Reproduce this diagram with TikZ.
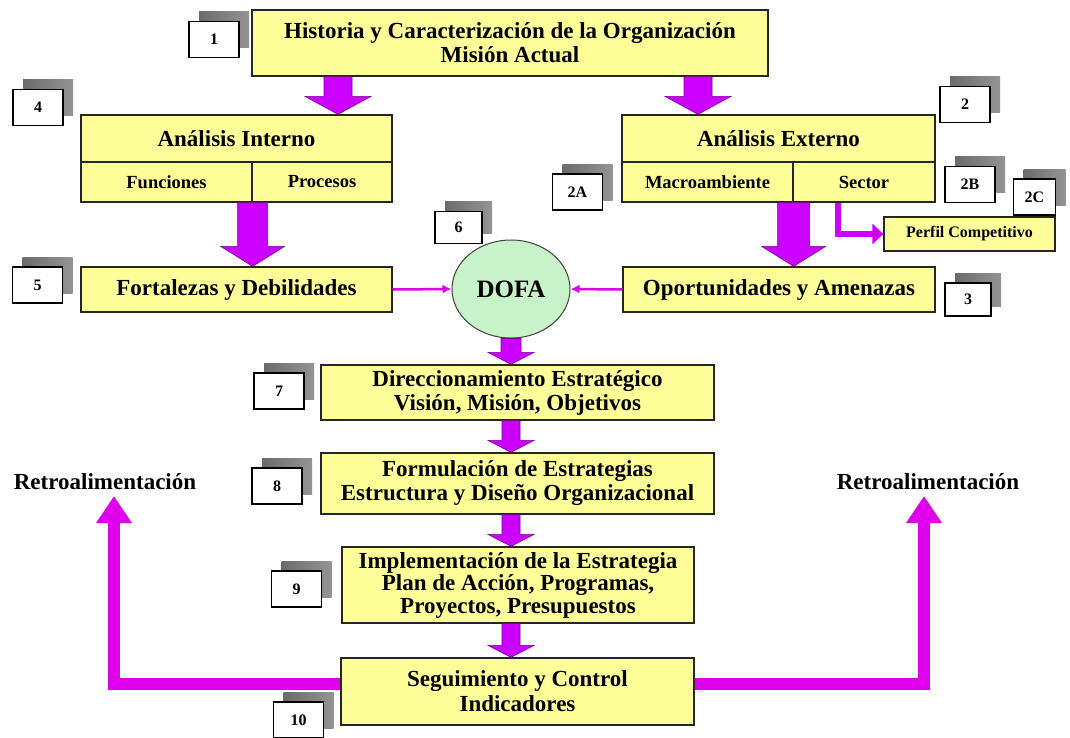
\documentclass[tikz,border=0pt]{standalone}
\usepackage{fontspec}
\setmainfont{Liberation Serif}
\usetikzlibrary{arrows.meta,shapes.geometric,shadows,calc}
\definecolor{boxyellow}{RGB}{255,255,153}
\definecolor{arrowmag}{RGB}{204,0,255}
\definecolor{arrowedge}{RGB}{120,0,150}
\definecolor{linemag}{RGB}{225,0,235}
\definecolor{dofagreen}{RGB}{200,242,200}
\begin{document}
\begin{tikzpicture}[x=1pt,y=-1pt,
  box/.style={draw=black!85, line width=1.3pt, fill=boxyellow, inner sep=0pt,
    align=center, font=\bfseries\fontsize{23}{24}\selectfont},
  subbox/.style={box, font=\bfseries\fontsize{18.5}{20}\selectfont},
  numbox/.style={draw=black, line width=1.3pt, fill=white, inner sep=0pt,
    minimum width=50pt, minimum height=36pt, font=\bfseries\fontsize{16}{16}\selectfont,
    general shadow={shading=axis, left color=black!58, right color=black!42,
      shadow xshift=10pt, shadow yshift=10pt}},
  barrow/.style args={#1/#2/#3}{fill=arrowmag, draw=arrowedge, line width=0.6pt,
    to path={let \p1=(\tikztostart), \p2=(\tikztotarget) in
      ({\x1-#1pt},\y1) -- ({\x1-#1pt},{\y2+#3pt}) -- ({\x1-#2pt},{\y2+#3pt})
      -- (\x1,\y2) -- ({\x1+#2pt},{\y2+#3pt}) -- ({\x1+#1pt},{\y2+#3pt})
      -- ({\x1+#1pt},\y1) -- cycle}},
  thinarrow/.style={draw=linemag, line width=2.5pt, -{Latex[length=9pt,width=9pt]}},
  sectorarrow/.style={draw=arrowmag, line width=6pt, -{Triangle[length=11pt,width=20pt]}},
  fbarrow/.style={draw=linemag, line width=12pt, -{Triangle[length=27pt,width=34pt]}},
  label/.style={inner sep=0pt, font=\bfseries\fontsize{23}{24}\selectfont}
]
\useasboundingbox (0,0) rectangle (1070,737);
\fill[white] (0,0) rectangle (1070,737);

% helper x positions for the arrows
\coordinate (k1) at (338,0);
\coordinate (k2) at (698,0);
\coordinate (k3) at (838,0);
\coordinate (fbY) at (0,684);
\coordinate (fbL) at (114,496);
\coordinate (fbR) at (924,496);

% main boxes
\node[box, minimum width=516pt, minimum height=66pt] (hist) at (510,43)
  {Historia y Caracterización de la Organización\\Misión Actual};

\node[box, minimum width=311pt, minimum height=47pt] (intT) at (236.5,138.5) {Análisis Interno};
\node[subbox, minimum width=171pt, minimum height=40pt] (intF) at (166.5,182) {Funciones};
\node[subbox, minimum width=140pt, minimum height=40pt] (intP) at (322,182) {Procesos};

\node[box, minimum width=313pt, minimum height=47pt] (extT) at (778.5,138.5) {Análisis Externo};
\node[subbox, minimum width=171pt, minimum height=40pt] (extM) at (707.5,182) {Macroambiente};
\node[subbox, minimum width=142pt, minimum height=40pt] (extS) at (864,182) {Sector};

\node[box, minimum width=171pt, minimum height=34pt, font=\bfseries\fontsize{16}{17}\selectfont]
  (perfil) at (969.5,234) {Perfil Competitivo};

\node[box, minimum width=311pt, minimum height=45pt] (fort) at (236.5,289.5) {Fortalezas y Debilidades};
\node[box, minimum width=312pt, minimum height=45pt] (opor) at (779,289.5) {Oportunidades y Amenazas};

\node[ellipse, draw=black!75, line width=1pt, fill=dofagreen, minimum width=118pt,
  minimum height=98pt, inner sep=0pt, font=\bfseries\fontsize{25}{25}\selectfont]
  (dofa) at (511,289) {DOFA};

\node[box, minimum width=393pt, minimum height=55pt] (dir) at (517.5,392.5)
  {Direccionamiento Estratégico\\Visión, Misión, Objetivos};
\node[box, minimum width=393pt, minimum height=61pt] (form) at (517.5,483.5)
  {Formulación de Estrategias\\Estructura y Diseño Organizacional};
\node[box, minimum width=352pt, minimum height=76pt, font=\bfseries\fontsize{23}{22.5}\selectfont]
  (impl) at (518,585)
  {Implementación de la Estrategia\\Plan de Acción, Programas,\\Proyectos, Presupuestos};
\node[box, minimum width=353pt, minimum height=67pt, font=\bfseries\fontsize{23}{25}\selectfont]
  (seg) at (517.5,691.5) {Seguimiento y Control\\Indicadores};

\node[label] (retL) at (105,482) {Retroalimentación};
\node[label] (retR) at (928,482) {Retroalimentación};

% numbered tags
\node[numbox] (n1) at (214,39.5) {1};
\node[numbox] (n4) at (38,107.5) {4};
\node[numbox] (n2) at (965,104.5) {2};
\node[numbox] (n2a) at (577.5,192) {2A};
\node[numbox] (n2b) at (970,184.5) {2B};
\node[numbox, minimum width=42pt] (n2c) at (1034.5,197) {2C};
\node[numbox, minimum width=47pt, minimum height=32pt] (n6) at (458.5,227.5) {6};
\node[numbox] (n5) at (37.5,285) {5};
\node[numbox, minimum width=46pt, minimum height=33pt] (n3) at (968,299.5) {3};
\node[numbox] (n7) at (279,391) {7};
\node[numbox] (n8) at (277,486) {8};
\node[numbox] (n9) at (296.5,589) {9};
\node[numbox] (n10) at (298.5,720) {10};

% block arrows
\draw[barrow=14/33/18] (hist.south -| k1) to (intT.north -| k1);
\draw[barrow=14/33/18] (hist.south -| k2) to (extT.north -| k2);
\draw[barrow=15/32/20] (intF.south east) to (fort.north -| intF.south east);
\draw[barrow=16/32/20] (extM.south east) to (opor.north -| extM.south east);
\draw[barrow=10/23/12] (dofa.south) to (dir.north -| dofa.south);
\draw[barrow=9/23/12] (dir.south -| dofa.south) to (form.north -| dofa.south);
\draw[barrow=9/23/12] (form.south -| dofa.south) to (impl.north -| dofa.south);
\draw[barrow=9/23/12] (impl.south -| dofa.south) to (seg.north -| dofa.south);

% thin connectors into the DOFA matrix
\draw[thinarrow] (fort.east) -- (dofa.west);
\draw[thinarrow] (opor.west) -- (dofa.east);

% sector to competitive profile
\draw[sectorarrow] (extS.south -| k3) |- (perfil.west);

% feedback loops
\draw[fbarrow] (seg.west |- fbY) -| (fbL);
\draw[fbarrow] (seg.east |- fbY) -| (fbR);
\end{tikzpicture}
\end{document}
